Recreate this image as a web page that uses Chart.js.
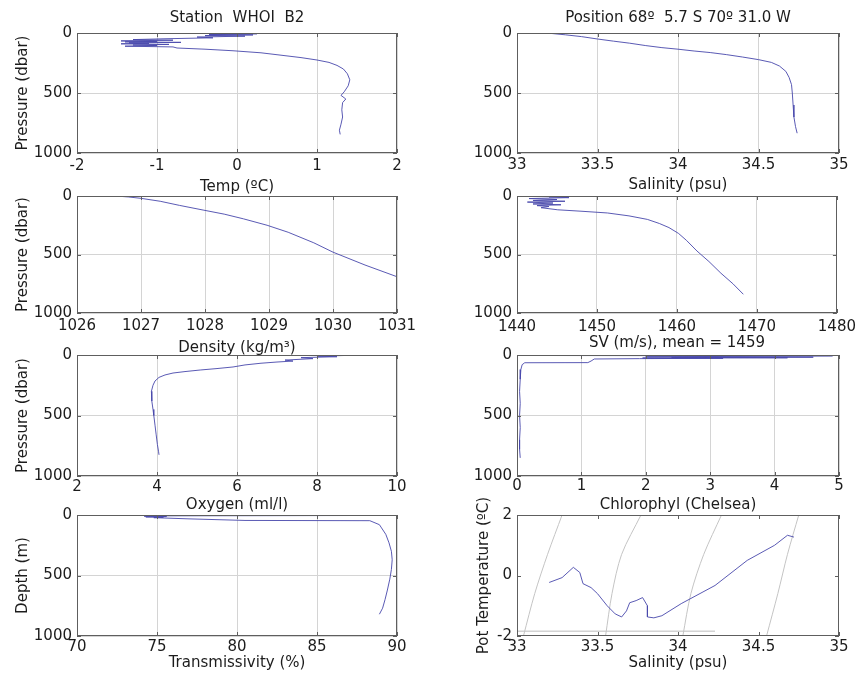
<!DOCTYPE html>
<html>
<head>
<meta charset="utf-8">
<script src="https://cdn.jsdelivr.net/npm/chart.js@4.4.1/dist/chart.umd.min.js"></script>
<style>
  html, body { margin: 0; padding: 0; background: #fff; overflow: hidden; }
  #wrap { position: relative; width: 861px; height: 679px; background: #fff; }
  #wrap canvas { position: absolute; }
</style>
</head>
<body>
<div id="wrap"></div>
<script>
// ---- CTD cast, station WHOI B2 ----

// Temperature profile
const tempC = [0.25, -0.35, 0.2, -0.4, 0.1, -0.5, -0.3, -0.9, -1.3, -0.8, -1.45, -1.0, -1.4, -0.7, -1.35, -1.1, -1.45, -0.85, -1.3, -1.0, -1.4, -0.8, -0.75, -0.4, -0.05, 0.3, 0.55, 0.8, 1.0, 1.15, 1.25, 1.33, 1.38, 1.41, 1.39, 1.34, 1.30, 1.36, 1.32, 1.31, 1.32, 1.30, 1.28, 1.29];
const tempP = [8, 12, 16, 22, 26, 34, 40, 48, 55, 60, 66, 70, 74, 78, 82, 86, 90, 95, 100, 105, 110, 116, 125, 135, 148, 165, 185, 205, 225, 245, 270, 300, 340, 390, 440, 490, 520, 550, 580, 640, 700, 760, 810, 845];

// Salinity profile
const salPsu = [33.2, 33.3, 33.4, 33.5, 33.6, 33.7, 33.8, 33.9, 34.0, 34.1, 34.2, 34.3, 34.4, 34.5, 34.58, 34.63, 34.67, 34.69, 34.705, 34.71, 34.715, 34.72, 34.73, 34.74];
const salP = [2, 15, 30, 50, 68, 85, 105, 122, 135, 150, 163, 180, 200, 222, 245, 275, 320, 370, 430, 500, 600, 700, 780, 835];

// Density profile
const densKg = [1026.6, 1026.8, 1027.0, 1027.3, 1027.6, 1027.97, 1028.3, 1028.6, 1028.97, 1029.3, 1029.7, 1030.0, 1030.5, 1031.0, 1031.6];
const densP = [0, 8, 20, 45, 80, 120, 155, 195, 250, 310, 400, 480, 590, 690, 820];

// Sound velocity profile
const svMs = [1448.5, 1444, 1446.5, 1441.5, 1445, 1442, 1446, 1441.3, 1444.5, 1442, 1445.5, 1442.5, 1444, 1443, 1445.1, 1448, 1451.3, 1454, 1456.3, 1457.8, 1459, 1460.2, 1461.2, 1462.5, 1464, 1465.5, 1467, 1468.3];
const svP = [2, 8, 14, 22, 30, 38, 45, 52, 60, 68, 75, 82, 90, 100, 118, 130, 145, 170, 200, 235, 270, 320, 380, 470, 560, 660, 750, 840];

// Oxygen profile
const oxyMl = [8.7, 8.0, 8.5, 7.6, 7.9, 7.2, 7.4, 7.0, 6.6, 6.2, 5.9, 5.5, 5.08, 4.7, 4.4, 4.2, 4.05, 3.95, 3.9, 3.86, 3.87, 3.9, 3.92, 3.95, 3.98, 4.01, 4.04, 4.05];
const oxyP = [4, 10, 14, 22, 30, 42, 50, 58, 68, 82, 99, 112, 124, 137, 149, 165, 185, 215, 250, 300, 380, 450, 500, 580, 660, 740, 800, 825];

// Chlorophyll profile
const chlV = [0.12, 4.9, 2.0, 4.6, 2.4, 4.2, 1.95, 3.2, 1.9, 1.2, 1.15, 1.1, 0.12, 0.08, 0.06, 0.05, 0.04, 0.05, 0.04, 0.05, 0.04, 0.04, 0.05];
const chlP = [4, 7, 15, 18, 20, 23, 25, 27, 30, 33, 50, 63, 64, 80, 120, 200, 300, 400, 500, 600, 700, 780, 850];

// Transmissivity profile
const transPct = [74.4, 88.2, 75.3, 74.2, 75.6, 74.3, 75.4, 74.8, 77.0, 80.5, 88.3, 88.9, 89.0, 89.3, 89.5, 89.65, 89.7, 89.65, 89.55, 89.4, 89.25, 89.1, 88.9];
const transD = [2, 4, 7, 10, 13, 16, 19, 22, 32, 45, 47, 80, 100, 160, 230, 300, 370, 450, 530, 620, 700, 770, 820];

// Potential temperature vs salinity
const tsSal = [33.2, 33.28, 33.35, 33.39, 33.41, 33.46, 33.5, 33.56, 33.61, 33.65, 33.68, 33.70, 33.74, 33.78, 33.81, 33.81, 33.85, 33.9, 34.02, 34.23, 34.43, 34.6, 34.68, 34.72];
const tsTheta = [-0.23, -0.07, 0.27, 0.1, -0.27, -0.4, -0.6, -1.0, -1.27, -1.37, -1.17, -0.9, -0.83, -0.73, -1.0, -1.37, -1.4, -1.33, -0.93, -0.33, 0.5, 1.0, 1.33, 1.27];

// Density isolines on the T-S diagram
const sigmaLineS = [
  [33.04, 33.11, 33.19, 33.28],
  [33.55, 33.59, 33.65, 33.77],
  [34.03, 34.08, 34.16, 34.27],
  [34.55, 34.62, 34.68, 34.75]
];
const sigmaLineT = [-2, -0.6, 0.7, 2];
// Freezing line segment
const freezeS = [33.0, 34.23];
const freezeT = [-1.84, -1.84];

// Axis tick settings
const pressureTicks = { min: 0, max: 1000, step: 500 };
const thetaTicks = { min: -2, max: 2, step: 2 };

// ---- drawing ----
const LINE = 'rgba(72,72,172,0.9)';
const GRID = '#d4d4d4';
const FRAME = '#5e5e5e';
const TEXT = '#1c1c1c';
Chart.defaults.font.family = '"DejaVu Sans", sans-serif';
Chart.defaults.font.size = 15;
Chart.defaults.color = TEXT;

const pts = (xs, ys) => xs.map((v, i) => ({ x: v, y: ys[i] }));
const line = (xs, ys, color, width, tension) => ({
  data: pts(xs, ys), borderColor: color, borderWidth: width,
  showLine: true, pointRadius: 0, tension: tension || 0, clip: 0
});

// Box around the plot area with inward tick marks on all sides
const frame = {
  id: 'frame',
  afterDraw(chart) {
    const { ctx, chartArea: a, scales } = chart;
    ctx.save();
    ctx.strokeStyle = FRAME;
    ctx.lineWidth = 1;
    ctx.beginPath();
    scales.x.ticks.forEach(t => {
      const px = Math.round(scales.x.getPixelForValue(t.value)) + 0.5;
      ctx.moveTo(px, a.bottom); ctx.lineTo(px, a.bottom - 4);
      ctx.moveTo(px, a.top); ctx.lineTo(px, a.top + 4);
    });
    scales.y.ticks.forEach(t => {
      const py = Math.round(scales.y.getPixelForValue(t.value)) + 0.5;
      ctx.moveTo(a.left, py); ctx.lineTo(a.left + 4, py);
      ctx.moveTo(a.right, py); ctx.lineTo(a.right - 4, py);
    });
    ctx.stroke();
    ctx.strokeRect(Math.round(a.left) + 0.5, Math.round(a.top) + 0.5,
                   Math.round(a.width) - 1, Math.round(a.height) - 1);
    ctx.restore();
  }
};

const panels = [
  { col: 0, top: 33, bottom: 153, datasets: [line(tempC, tempP, LINE, 1)],
    x: [-2, 2, 1], xTitle: 'Temp (ºC)', head: 'Station  WHOI  B2', yTitle: 'Pressure (dbar)', tickPad: 4, titleGap: 34 },
  { col: 1, top: 33, bottom: 153, datasets: [line(salPsu, salP, LINE, 1)],
    x: [33, 35, 0.5], xTitle: 'Salinity (psu)', head: 'Position 68º  5.7 S 70º 31.0 W', tickPad: 3, titleGap: 32 },
  { col: 0, top: 196, bottom: 313, datasets: [line(densKg, densP, LINE, 1)],
    x: [1026, 1031, 1], xTitle: 'Density (kg/m³)', yTitle: 'Pressure (dbar)', tickPad: 4, titleGap: 35 },
  { col: 1, top: 196, bottom: 313, datasets: [line(svMs, svP, LINE, 1)],
    x: [1440, 1480, 10], xTitle: 'SV (m/s), mean = 1459', tickPad: 5, titleGap: 30 },
  { col: 0, top: 355, bottom: 476, datasets: [line(oxyMl, oxyP, LINE, 1)],
    x: [2, 10, 2], xTitle: 'Oxygen (ml/l)', yTitle: 'Pressure (dbar)', tickPad: 2, titleGap: 29 },
  { col: 1, top: 355, bottom: 476, datasets: [line(chlV, chlP, LINE, 1)],
    x: [0, 5, 1], xTitle: 'Chlorophyl (Chelsea)', tickPad: 1, titleGap: 29 },
  { col: 0, top: 515, bottom: 636, datasets: [line(transPct, transD, LINE, 1)],
    x: [70, 90, 5], xTitle: 'Transmissivity (%)', yTitle: 'Depth (m)', tickPad: 2, titleGap: 27 },
  { col: 1, top: 515, bottom: 636, ts: true,
    datasets: [line(tsSal, tsTheta, LINE, 1)]
      .concat(sigmaLineS.map(s => line(s, sigmaLineT, '#c4c4c4', 1, 0.3)))
      .concat([line(freezeS, freezeT, '#bdbdbd', 1)]),
    x: [33, 35, 0.5], xTitle: 'Salinity (psu)', yTitle: 'Pot Temperature (ºC)', tickPad: 2, titleGap: 27 }
];

const wrap = document.getElementById('wrap');
const X_AXIS_H = 45;
const HEAD_H = 33;

panels.forEach(p => {
  const left = p.col === 0 ? 0 : 430;
  const width = p.col === 0 ? 430 : 431;
  const plotLeft = p.col === 0 ? 77 : 517;
  const plotRight = p.col === 0 ? 397 : 839;
  const height = HEAD_H + (p.bottom - p.top) + X_AXIS_H;
  const cv = document.createElement('canvas');
  cv.width = width; cv.height = height;
  cv.style.left = left + 'px';
  cv.style.top = (p.top - HEAD_H) + 'px';
  cv.style.width = width + 'px'; cv.style.height = height + 'px';
  wrap.appendChild(cv);

  const yr = p.ts ? thetaTicks : pressureTicks;
  const fmt = v => String(v);
  const scales = {
    x: {
      type: 'linear', position: 'bottom', min: p.x[0], max: p.x[1],
      ticks: { stepSize: p.x[2], padding: p.tickPad, callback: fmt, maxRotation: 0, autoSkip: false, color: TEXT },
      grid: { display: !p.ts, color: GRID, drawTicks: false, lineWidth: 1 },
      border: { display: false },
      title: { display: true, text: p.xTitle, color: TEXT, padding: { top: 0, bottom: X_AXIS_H - 9 - p.titleGap } },
      afterFit: s => { s.height = X_AXIS_H; }
    },
    y: {
      type: 'linear', position: 'left', reverse: !p.ts, min: yr.min, max: yr.max,
      ticks: { stepSize: yr.step, padding: 5, callback: fmt, autoSkip: false, color: TEXT },
      grid: { display: !p.ts, color: GRID, drawTicks: false, lineWidth: 1 },
      border: { display: false },
      title: { display: !!p.yTitle, text: p.yTitle || '', color: TEXT, padding: { top: p.col === 0 ? 14 : 45, bottom: 0 } },
      afterFit: s => { s.width = plotLeft - left; }
    }
  };
  if (p.head) {
    scales.xTop = {
      type: 'linear', position: 'top', min: p.x[0], max: p.x[1],
      ticks: { display: false },
      grid: { display: false, drawTicks: false },
      border: { display: false },
      title: { display: true, text: p.head, color: TEXT, padding: { top: 9, bottom: 0 } },
      afterFit: s => { s.height = HEAD_H; }
    };
  }

  new Chart(cv, {
    type: 'scatter',
    data: { datasets: p.datasets },
    options: {
      responsive: false,
      animation: false,
      devicePixelRatio: 1,
      events: [],
      layout: { padding: { left: 0, right: left + width - plotRight, top: p.head ? 0 : HEAD_H, bottom: 0 } },
      plugins: { legend: { display: false }, tooltip: { enabled: false }, title: { display: false } },
      scales
    },
    plugins: [frame]
  });
});
</script>
</body>
</html>
